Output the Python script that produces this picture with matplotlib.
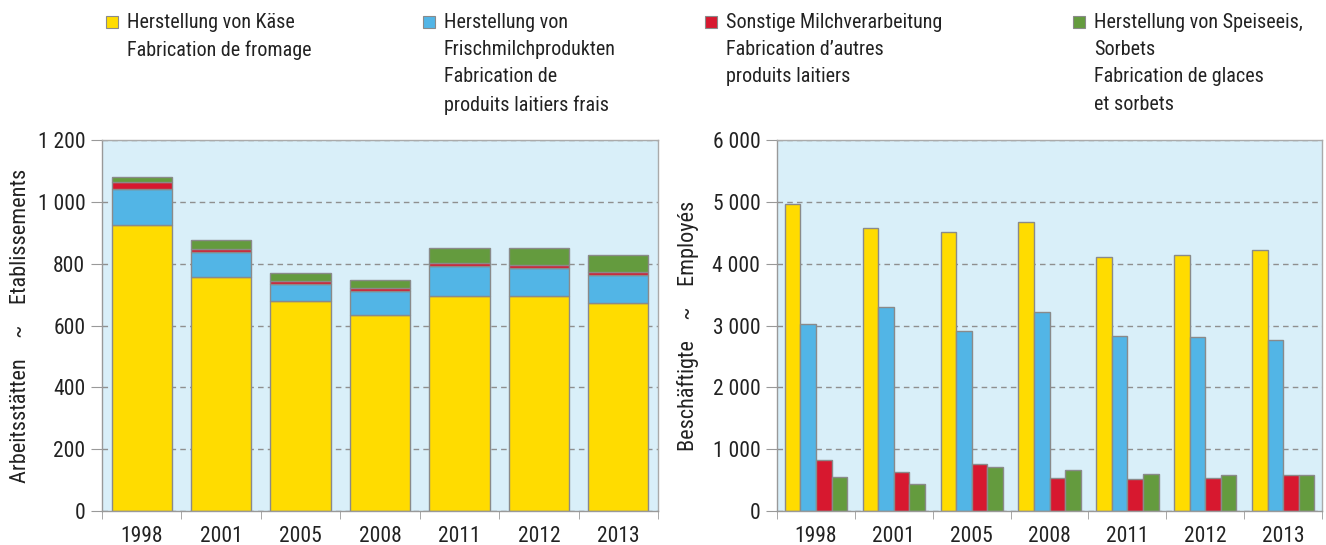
import matplotlib.pyplot as plt
from matplotlib.patches import Rectangle
from matplotlib.ticker import FuncFormatter
from matplotlib import font_manager
import numpy as np

names = set(f.name for f in font_manager.fontManager.ttflist)
fams = [f for f in ['Roboto Condensed', 'Liberation Sans Narrow', 'Roboto'] if f in names]
plt.rcParams['font.family'] = fams + ['DejaVu Sans']

years = ['1998', '2001', '2005', '2008', '2011', '2012', '2013']

# Arbeitsstätten ~ Etablissements (stacked)
est_kaese = [925, 758, 680, 635, 697, 694, 674]
est_frisch = [117, 81, 55, 77, 94, 91, 88]
est_sonst = [21, 10, 9, 8, 12, 11, 10]
est_eis = [18, 27, 26, 28, 49, 55, 57]

# Beschäftigte ~ Employés (grouped)
emp_kaese = [4970, 4580, 4505, 4670, 4105, 4140, 4225]
emp_frisch = [3025, 3295, 2910, 3215, 2830, 2810, 2770]
emp_sonst = [825, 625, 765, 530, 515, 540, 580]
emp_eis = [550, 440, 715, 665, 595, 585, 585]

labels = ['Herstellung von Käse\nFabrication de fromage',
          'Herstellung von\nFrischmilchprodukten\nFabrication de\nproduits laitiers frais',
          'Sonstige Milchverarbeitung\nFabrication d\u2019autres\nproduits laitiers',
          'Herstellung von Speiseeis,\nSorbets\nFabrication de glaces\net sorbets']
colors = ['#FFDC00', '#52B5E6', '#D7182F', '#649B3E']
edge = '#8a8a8a'
bg = '#D9EFF9'


def fmt(v, pos):
    return '{:,.0f}'.format(v).replace(',', ' ')


def style(ax, ymax, step):
    ax.set_facecolor(bg)
    ax.set_xlim(-0.5, len(years) - 0.5)
    ax.set_ylim(0, ymax)
    ax.set_yticks(np.arange(0, ymax + 1, step))
    ax.yaxis.set_major_formatter(FuncFormatter(fmt))
    ax.set_xticks(range(len(years)))
    ax.set_xticklabels(years)
    ax.set_xticks(np.arange(-0.5, len(years)), minor=True)
    ax.tick_params(axis='x', which='major', length=0, pad=11)
    ax.tick_params(axis='x', which='minor', length=6, color='#999999')
    ax.tick_params(axis='y', length=8, color='#999999', pad=4)
    ax.tick_params(labelsize=15.5, labelcolor='#222222')
    ax.grid(axis='y', linestyle=(0, (4, 3)), color='#8f8f8f', linewidth=1)
    ax.set_axisbelow(True)
    for s in ax.spines.values():
        s.set_color('#aaaaaa')
        s.set_linewidth(1)
    ax.spines['left'].set_color('#999999')
    ax.spines['bottom'].set_color('#999999')


fig = plt.figure(figsize=(13.26, 5.45), dpi=100)
ax1 = fig.add_axes([0.0769, 0.0624, 0.4193, 0.6807])
ax2 = fig.add_axes([0.586, 0.0624, 0.411, 0.6807])

x = np.arange(len(years))
bottom = np.zeros(len(years))
for vals, c in zip([est_kaese, est_frisch, est_sonst, est_eis], colors):
    ax1.bar(x, vals, 0.76, bottom=bottom, color=c, edgecolor=edge, linewidth=1)
    bottom += np.array(vals)
style(ax1, 1200, 200)
ax1.set_ylabel('Arbeitsstätten    ~    Etablissements', fontsize=16, labelpad=5, color='#222222')

w = 0.2
for i, (vals, c) in enumerate(zip([emp_kaese, emp_frisch, emp_sonst, emp_eis], colors)):
    ax2.bar(x + (i - 1.5) * w, vals, w, color=c, edgecolor=edge, linewidth=1)
style(ax2, 6000, 1000)
ax2.set_ylabel('Beschäftigte    ~    Employés', fontsize=16, labelpad=10, color='#222222')

# legend entries across the top (pixel positions of the reference)
W, H = 1326, 545
sq_x = [106, 423, 705, 1073]
for sx, lab, c in zip(sq_x, labels, colors):
    fig.add_artist(Rectangle((sx / W, 1 - 28 / H), 12 / W, 12 / H,
                             transform=fig.transFigure, facecolor=c,
                             edgecolor=edge, linewidth=0.8))
    fig.text((sx + 21) / W, 1 - 13 / H, lab, fontsize=14.5, va='top', ha='left',
             linespacing=1.55, color='#222222')

fig.savefig('out.png', dpi=100)
